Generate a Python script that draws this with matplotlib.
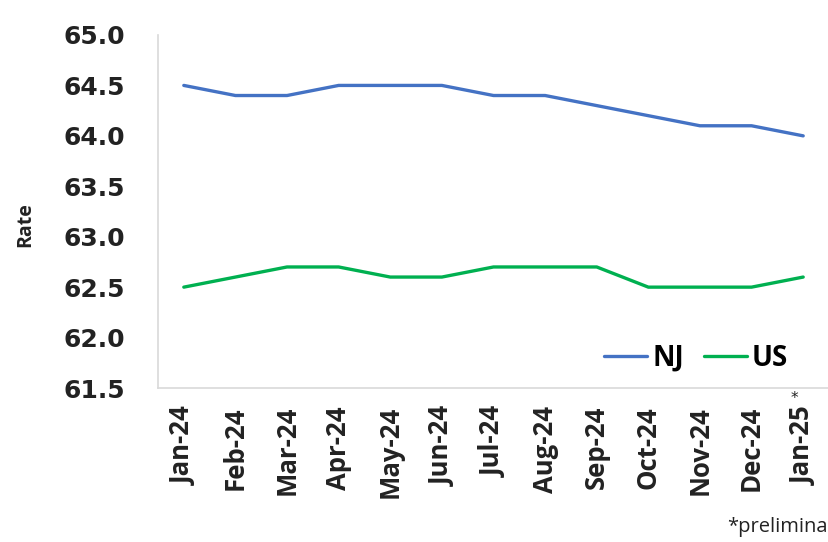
import matplotlib.pyplot as plt
import numpy as np

# Dane
months = ['Jan-24', 'Feb-24', 'Mar-24', 'Apr-24', 'May-24', 'Jun-24', 'Jul-24',
          'Aug-24', 'Sep-24', 'Oct-24', 'Nov-24', 'Dec-24', 'Jan-25']
nj = [64.5, 64.4, 64.4, 64.5, 64.5, 64.5, 64.4, 64.4, 64.3, 64.2, 64.1, 64.1, 64.0]
us = [62.5, 62.6, 62.7, 62.7, 62.6, 62.6, 62.7, 62.7, 62.7, 62.5, 62.5, 62.5, 62.6]
y_ticks = [61.5, 62.0, 62.5, 63.0, 63.5, 64.0, 64.5, 65.0]

W, H = 829, 542
fig = plt.figure(figsize=(W / 100, H / 100), dpi=100)
ax = fig.add_axes([158 / W, 1 - 388 / H, (829 - 158) / W, (388 - 35) / H])

x = np.arange(len(months)) + 0.5
ax.plot(x, nj, color='#4472C4', linewidth=2.4, label='NJ', solid_capstyle='round')
ax.plot(x, us, color='#00B050', linewidth=2.4, label='US', solid_capstyle='round')

ax.set_xlim(0, len(months))
ax.set_ylim(61.5, 65.0)
ax.set_yticks(y_ticks)
ax.set_yticklabels([f'{v:.1f}' for v in y_ticks], fontsize=18, fontweight='bold',
                   family='DejaVu Sans', color='#222222')
ax.set_xticks(x)
ax.set_xticklabels(months, rotation=90, fontsize=18.5, fontweight='bold',
                   family='Open Sans', color='#222222')
ax.tick_params(axis='y', length=0, pad=24)
ax.tick_params(axis='x', length=0, pad=13)

for s in ['top', 'right']:
    ax.spines[s].set_visible(False)
for s in ['left', 'bottom']:
    ax.spines[s].set_color('#d9d9d9')
    ax.spines[s].set_linewidth(1.2)

fig.text(25 / W, 1 - 225 / H, 'Rate', rotation=90, ha='center', va='center',
         fontsize=14, fontweight='bold', family='Open Sans', color='#222222')

leg = ax.legend(loc='lower right', bbox_to_anchor=(813 / W, 1 - 398 / H),
                bbox_transform=fig.transFigure, ncol=2, frameon=False,
                prop={'family': 'Open Sans', 'weight': 'bold', 'size': 20},
                handlelength=1.55, handletextpad=0.18, columnspacing=0.7)

fig.text(794 / W, 1 - 406 / H, '*', ha='center', va='bottom', fontsize=11, color='#222222')
fig.text(727 / W, 1 - 527 / H, '*preliminary', ha='left', va='center',
         fontsize=14.5, family='Open Sans', color='#222222')

fig.savefig('out.png', dpi=100)
